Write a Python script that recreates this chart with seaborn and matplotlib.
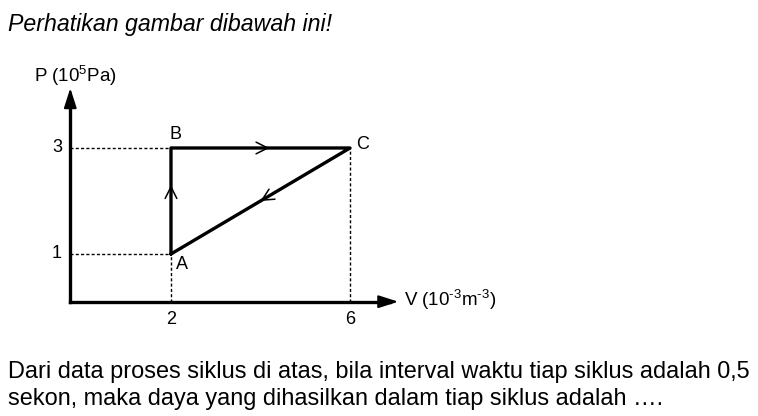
import matplotlib
matplotlib.use("Agg")
import matplotlib.pyplot as plt
import seaborn as sns
import pandas as pd

# Siklus A -> B -> C -> A
points = ["A", "B", "C", "A"]
volume = [2, 2, 6, 2]      # 10^-3 m^3
pressure = [1, 3, 3, 1]    # 10^5 Pa
x_ticks = [2, 6]
y_ticks = [1, 3]

cycle = pd.DataFrame({"V": volume, "P": pressure, "titik": points})

sns.set_theme(style="white")
plt.rcParams["font.family"] = ["Liberation Sans", "DejaVu Sans"]
plt.rcParams["text.color"] = "black"
plt.rcParams["mathtext.fontset"] = "custom"
plt.rcParams["mathtext.rm"] = "Liberation Sans"
plt.rcParams["mathtext.it"] = "Liberation Sans:italic"
plt.rcParams["mathtext.default"] = "regular"

fig = plt.figure(figsize=(7.58, 4.16), dpi=100)
# axes placed so that data units map onto the drawing area
ax = fig.add_axes([60 / 758, 86 / 416, 360 / 758, 270 / 416])
ax.set_xlim(-0.48, 7.564)
ax.set_ylim(-0.434, 4.66)
ax.axis("off")

x0, y0 = -0.25, 0.1
# axes with arrowheads
ax.plot([x0, 6.9], [y0, y0], color="black", lw=2.4, solid_capstyle="projecting")
ax.plot([x0, x0], [y0, 3.9], color="black", lw=2.4, solid_capstyle="projecting")
head = dict(arrowstyle="-|>,head_length=1.0,head_width=0.32", lw=1.5,
            color="black", shrinkA=0, shrinkB=0)
ax.annotate("", xy=(7.08, y0), xytext=(6.8, y0), arrowprops=head)
ax.annotate("", xy=(x0, 4.13), xytext=(x0, 3.8), arrowprops=head)

dash = (0, (2.2, 1.6))
for p in y_ticks:
    ax.plot([x0, 2], [p, p], ls=dash, lw=1.0, color="black")
    ax.text(x0 - 0.3, p, str(p), ha="center", va="center", fontsize=13)
ax.plot([6, 6], [y0, 3], ls=dash, lw=1.0, color="black")
ax.plot([2, 2], [y0, 1], ls=dash, lw=1.0, color="black")
for v in x_ticks:
    ax.text(v, y0 - 0.33, str(v), ha="center", va="center", fontsize=13)

sns.lineplot(data=cycle, x="V", y="P", sort=False, estimator=None,
             color="black", lw=2.4, ax=ax, legend=False)

# direction chevrons
def chevron(xa, ya, xb, yb):
    ax.annotate("", xy=(xb, yb), xytext=(xa, ya),
                arrowprops=dict(arrowstyle="->,head_length=0.7,head_width=0.35",
                                lw=1.1, color="black", shrinkA=0, shrinkB=0))

chevron(2, 2.0, 2, 2.3)
chevron(3.8, 3, 4.2, 3)
chevron(4.4, 2.2, 4.0, 2.0)

ax.text(2.1, 3.25, "B", ha="center", va="center", fontsize=13)
ax.text(6.27, 3.07, "C", ha="center", va="center", fontsize=13)
ax.text(2.25, 0.8, "A", ha="center", va="center", fontsize=13)

ax.text(-1.05, 4.36, "P (10$^5$Pa)", ha="left", va="center", fontsize=13.5)
ax.text(7.2, y0 + 0.03, "V (10$^{\u20103}$m$^{\u20103}$)", ha="left", va="center",
        fontsize=13.5)

fig.text(8 / 758, 1 - 24 / 416, "Perhatikan gambar dibawah ini!",
         fontsize=16.7, style="italic", ha="left", va="center")
fig.text(8 / 758, 1 - 372 / 416,
         "Dari data proses siklus di atas, bila interval waktu tiap siklus adalah 0,5",
         fontsize=16.95, ha="left", va="center")
fig.text(8 / 758, 1 - 399 / 416,
         "sekon, maka daya yang dihasilkan dalam tiap siklus adalah ….",
         fontsize=16.95, ha="left", va="center")

fig.savefig("out.png", dpi=100, facecolor="white")
